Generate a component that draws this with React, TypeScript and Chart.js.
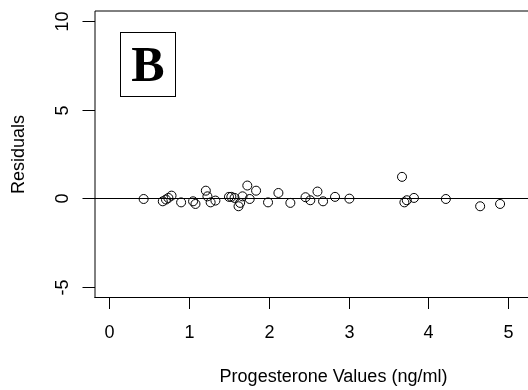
import React, { useEffect, useRef } from "react";
import { Chart, registerables } from "chart.js";

Chart.register(...registerables);

const progesterone = [0.43, 0.67, 0.71, 0.74, 0.78, 0.9, 1.05, 1.08, 1.21, 1.23, 1.27, 1.33, 1.5, 1.53, 1.57, 1.62, 1.64, 1.67, 1.73, 1.76, 1.84, 1.99, 2.12, 2.27, 2.46, 2.52, 2.61, 2.68, 2.83, 3.01, 3.67, 3.7, 3.73, 3.82, 4.22, 4.65, 4.9];
const residuals = [-0.05, -0.18, -0.08, 0.01, 0.14, -0.24, -0.18, -0.33, 0.42, 0.1, -0.24, -0.14, 0.07, 0.07, 0.01, -0.46, -0.27, 0.1, 0.71, -0.05, 0.42, -0.24, 0.29, -0.27, 0.05, -0.12, 0.37, -0.18, 0.07, -0.03, 1.2, -0.24, -0.12, 0.01, -0.05, -0.46, -0.33];
const xTicks = [0, 1, 2, 3, 4, 5];
const yTicks = [-5, 0, 5, 10];
const xTitle = "Progesterone Values (ng/ml)";
const yTitle = "Residuals";
const panelLabel = "B";

const FONT = '18px "Liberation Sans", Arial, Helvetica, sans-serif';

const rPlot = {
  id: "rPlot",
  beforeDatasetsDraw(chart: any) {
    const { ctx, chartArea, scales } = chart;
    const y0 = Math.round(scales.y.getPixelForValue(0)) + 0.5;
    ctx.save();
    ctx.strokeStyle = "#000";
    ctx.lineWidth = 1;
    ctx.beginPath();
    ctx.moveTo(chartArea.left, y0);
    ctx.lineTo(chartArea.right, y0);
    ctx.stroke();
    ctx.restore();
  },
  afterDraw(chart: any) {
    const { ctx, chartArea, scales } = chart;
    const { left, top, right, bottom } = chartArea;
    ctx.save();
    ctx.strokeStyle = "#000";
    ctx.lineWidth = 1;
    // frame (top / left, soft like R's antialiased box)
    ctx.beginPath();
    ctx.moveTo(left, top);
    ctx.lineTo(right, top);
    ctx.moveTo(left, top);
    ctx.lineTo(left, bottom);
    ctx.stroke();
    ctx.beginPath();
    ctx.moveTo(left - 0.5, bottom - 0.5);
    ctx.lineTo(right, bottom - 0.5);
    ctx.stroke();

    ctx.fillStyle = "#000";
    ctx.font = FONT;
    // x ticks
    ctx.textAlign = "center";
    ctx.textBaseline = "alphabetic";
    xTicks.forEach((t) => {
      const px = Math.round(scales.x.getPixelForValue(t)) + 0.5;
      ctx.beginPath();
      ctx.moveTo(px, bottom);
      ctx.lineTo(px, bottom + 11);
      ctx.stroke();
      ctx.fillText(String(t), px, bottom + 40);
    });
    // y ticks
    yTicks.forEach((t) => {
      const py = Math.round(scales.y.getPixelForValue(t)) + 0.5;
      ctx.beginPath();
      ctx.moveTo(left - 12.5, py);
      ctx.lineTo(left, py);
      ctx.stroke();
      ctx.save();
      ctx.translate(left - 27, py);
      ctx.rotate(-Math.PI / 2);
      ctx.fillText(String(t), 0, 0);
      ctx.restore();
    });
    // titles
    ctx.fillText(xTitle, 333.5, bottom + 84);
    ctx.save();
    ctx.translate(23.5, (top + bottom) / 2);
    ctx.rotate(-Math.PI / 2);
    ctx.fillText(yTitle, 0, 0);
    ctx.restore();

    // panel label box
    ctx.strokeRect(120.5, 32.5, 55, 64);
    ctx.font = 'bold 50px "Liberation Serif", "Times New Roman", serif';
    ctx.fillText(panelLabel, 148, 81);
    ctx.restore();
  },
};

export default function App() {
  const ref = useRef<HTMLCanvasElement>(null);
  useEffect(() => {
    document.body.style.margin = "0";
    const chart = new Chart(ref.current!, {
      type: "scatter",
      data: {
        datasets: [
          {
            data: progesterone.map((x, i) => ({ x, y: residuals[i] })),
            pointRadius: 4.5,
            pointHoverRadius: 4.5,
            borderColor: "#000",
            borderWidth: 1,
            backgroundColor: "rgba(0,0,0,0)",
          },
        ],
      },
      options: {
        responsive: false,
        animation: false,
        events: [],
        layout: { autoPadding: false, padding: { left: 95, top: 11, right: 0, bottom: 92 } },
        plugins: { legend: { display: false }, tooltip: { enabled: false } },
        scales: {
          x: { type: "linear", min: -0.18, max: 5.25, display: false },
          y: { type: "linear", min: -5.64, max: 10.565, display: false },
        },
      },
      plugins: [rPlot],
    });
    return () => chart.destroy();
  }, []);
  return (
    <div style={{ width: 528, height: 390, overflow: "hidden", background: "#fff" }}>
      <canvas ref={ref} width={528} height={390} style={{ display: "block" }} />
    </div>
  );
}
